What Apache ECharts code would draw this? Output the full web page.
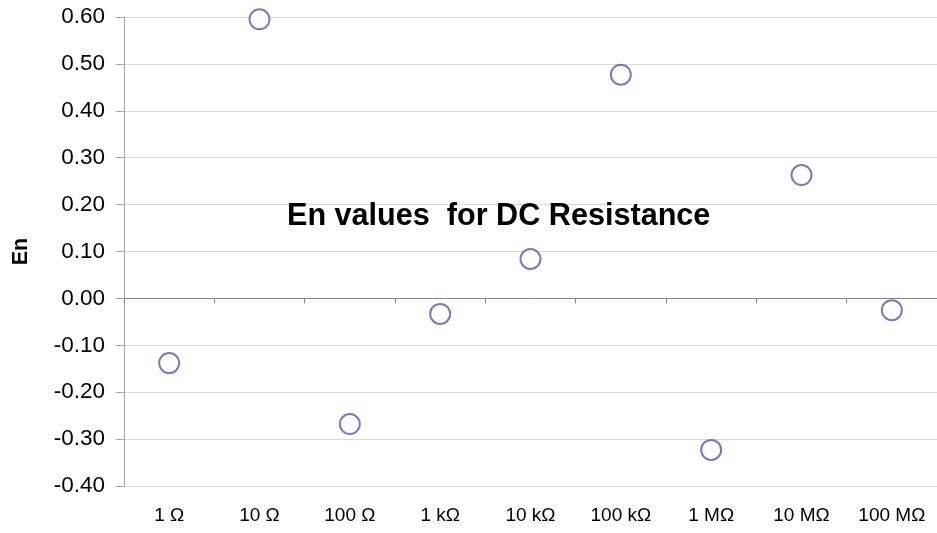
<!DOCTYPE html>
<html>
<head>
<meta charset="utf-8">
<script src="https://cdn.jsdelivr.net/npm/echarts@6/dist/echarts.min.js"></script>
<style>html,body{margin:0;padding:0;background:#fff}#c{width:937px;height:533px}</style>
</head>
<body>
<div id="c"></div>
<script>
const categories = ['1 Ω', '10 Ω', '100 Ω', '1 kΩ', '10 kΩ', '100 kΩ', '1 MΩ', '10 MΩ', '100 MΩ'];
const enValues = [-0.138, 0.595, -0.268, -0.033, 0.084, 0.477, -0.323, 0.263, -0.025];
const yMin = -0.4, yMax = 0.6, yStep = 0.1;
const chartTitle = 'En values  for DC Resistance';
const yName = 'En';

const chart = echarts.init(document.getElementById('c'));
const font = 'Arial, "Liberation Sans", sans-serif';
chart.setOption({
  animation: false,
  title: {
    text: chartTitle,
    left: 282, top: 196,
    textStyle: { fontFamily: font, fontSize: 30.6, fontWeight: 'bold', color: '#000' }
  },
  grid: { left: 124, right: 0, top: 17, bottom: 47, containLabel: false, outerBoundsMode: 'none' },
  xAxis: [{
    type: 'category', data: categories, position: 'bottom',
    axisLine: { show: true, onZero: true, lineStyle: { color: '#868686', width: 1 } },
    axisTick: { show: true, length: 5, lineStyle: { color: '#868686' } },
    axisLabel: { show: false },
    splitLine: { show: false }
  }, {
    type: 'category', data: categories, position: 'bottom',
    axisLine: { show: false, onZero: false },
    axisTick: { show: false },
    axisLabel: { margin: 20, fontFamily: font, fontSize: 19, color: '#000' },
    splitLine: { show: false }
  }],
  yAxis: {
    type: 'value', min: yMin, max: yMax, interval: yStep,
    name: yName, nameLocation: 'middle', nameRotate: 90, nameGap: 92,
    nameTextStyle: { fontFamily: font, fontSize: 21.5, fontWeight: 'bold', color: '#000' },
    axisLine: { show: true, lineStyle: { color: '#a6a6a6' } },
    axisTick: { show: true, length: 8, lineStyle: { color: '#a6a6a6' } },
    axisLabel: { margin: 19, fontFamily: font, fontSize: 22.5, color: '#000',
      formatter: v => v.toFixed(2) },
    splitLine: { show: true, lineStyle: { color: '#d9d9d9', width: 1 } }
  },
  series: [{
    type: 'scatter', xAxisIndex: 0, data: enValues,
    symbol: 'emptyCircle', symbolSize: 20,
    itemStyle: { color: '#5b5b9f', borderColor: '#5b5b9f', borderWidth: 1.8 }
  }]
});
</script>
</body>
</html>
